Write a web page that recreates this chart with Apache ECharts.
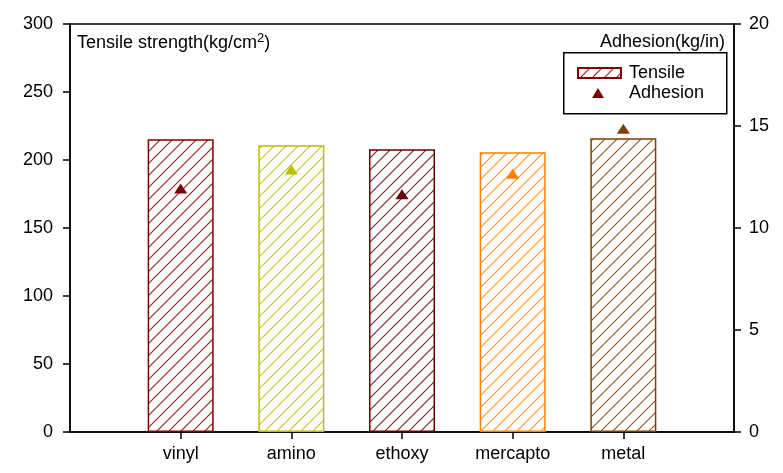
<!DOCTYPE html>
<html>
<head>
<meta charset="utf-8">
<script src="https://cdn.jsdelivr.net/npm/echarts@6/dist/echarts.min.js"></script>
<style>html,body{margin:0;padding:0;background:#fff}#c{width:783px;height:473px}</style>
</head>
<body>
<div id="c"></div>
<script>
// ---- data ----
var categories = ['vinyl', 'amino', 'ethoxy', 'mercapto', 'metal'];
var tensile = [215.3, 210.9, 207.9, 205.7, 216.0];      // left axis, kg/cm^2
var adhesion = [11.94, 12.87, 11.66, 12.66, 14.86];     // right axis, kg/in
var colors = ['#7f0000', '#bcbc00', '#660000', '#ff8000', '#7f3f00'];
var leftTicks = [0, 50, 100, 150, 200, 250, 300];
var rightTicks = [0, 5, 10, 15, 20];

var FONT = '"Liberation Sans", Arial, sans-serif';

function hatch(color) {
  var s = 12;
  var cv = document.createElement('canvas');
  cv.width = s; cv.height = s;
  var ctx = cv.getContext('2d');
  ctx.strokeStyle = color;
  ctx.globalAlpha = 0.85;
  ctx.lineWidth = 1.2;
  ctx.beginPath();
  ctx.moveTo(-1, s + 1); ctx.lineTo(s + 1, -1);
  ctx.moveTo(-1, 1); ctx.lineTo(1, -1);
  ctx.moveTo(s - 1, s + 1); ctx.lineTo(s + 1, s - 1);
  ctx.stroke();
  return { image: cv, repeat: 'repeat' };
}

// pad category axis with empty slots at both ends
var xCats = [''].concat(categories).concat(['']);
var barData = ['-'].concat(tensile.map(function (v, i) {
  return { value: v, itemStyle: { color: hatch(colors[i]), borderColor: colors[i] } };
})).concat(['-']);
var scatData = ['-'].concat(adhesion.map(function (v, i) {
  return { value: v, itemStyle: { color: colors[i] } };
})).concat(['-']);

var legendText = { fontFamily: FONT, fontSize: 18, color: '#000' };

var chart = echarts.init(document.getElementById('c'));
chart.setOption({
  animation: false,
  textStyle: { fontFamily: FONT },
  grid: { left: 70, right: 49, top: 24, bottom: 41, show: true, borderColor: '#000', borderWidth: 1.5 },
  title: [
    {
      left: 72, top: 27,
      text: '{a|Tensile strength(kg/cm}{s|2}{a|)}',
      textStyle: {
        fontWeight: 'normal',
        rich: {
          a: { fontFamily: FONT, fontSize: 18, fontWeight: 'normal', color: '#000' },
          s: { fontFamily: FONT, fontSize: 13, fontWeight: 'normal', color: '#000', padding: [0, 0, 9, 0] }
        }
      }
    },
    {
      right: 53, top: 28,
      text: 'Adhesion(kg/in)',
      textStyle: { fontFamily: FONT, fontSize: 18, fontWeight: 'normal', color: '#000' }
    }
  ],
  graphic: [{
    type: 'rect', left: 563, top: 52, z: 5, silent: true,
    shape: { width: 163, height: 61 },
    style: { fill: 'rgba(0,0,0,0)', stroke: '#000', lineWidth: 1.5 }
  }],
  legend: [
    {
      left: 577, top: 64, padding: 0,
      itemWidth: 43, itemHeight: 10,
      textStyle: Object.assign({ padding: [0, 0, 0, 3] }, legendText),
      data: [{ name: 'Tensile', icon: 'rect' }]
    },
    {
      left: 592, top: 84, padding: 0,
      itemWidth: 12, itemHeight: 10, symbolKeepAspect: false,
      textStyle: Object.assign({ padding: [0, 0, 0, 20] }, legendText),
      data: [{ name: 'Adhesion', icon: 'triangle' }]
    }
  ],
  xAxis: {
    type: 'category', data: xCats, boundaryGap: false,
    axisLine: { lineStyle: { color: '#000', width: 1.5 } },
    axisTick: { length: 7, lineStyle: { color: '#000', width: 1.5 },
      interval: function (i) { return i > 0 && i < xCats.length - 1; } },
    axisLabel: { color: '#000', fontSize: 18, fontFamily: FONT, margin: 13, interval: 0 },
    splitLine: { show: false }
  },
  yAxis: [
    {
      type: 'value', min: leftTicks[0], max: leftTicks[leftTicks.length - 1], interval: leftTicks[1] - leftTicks[0],
      axisLine: { show: true, lineStyle: { color: '#000', width: 1.5 } },
      axisTick: { show: true, length: 7, lineStyle: { color: '#000', width: 1.5 } },
      axisLabel: { color: '#000', fontSize: 18, fontFamily: FONT, margin: 17 },
      splitLine: { show: false }
    },
    {
      type: 'value', min: rightTicks[0], max: rightTicks[rightTicks.length - 1], interval: rightTicks[1] - rightTicks[0],
      position: 'right',
      axisLine: { show: true, lineStyle: { color: '#000', width: 1.5 } },
      axisTick: { show: true, length: 7, lineStyle: { color: '#000', width: 1.5 } },
      axisLabel: { color: '#000', fontSize: 18, fontFamily: FONT, margin: 15 },
      splitLine: { show: false }
    }
  ],
  series: [
    {
      name: 'Tensile', type: 'bar', yAxisIndex: 0, barWidth: 66,
      itemStyle: { color: hatch('#800000'), borderColor: '#800000', borderWidth: 1.5 },
      data: barData
    },
    {
      name: 'Adhesion', type: 'scatter', yAxisIndex: 1, symbol: 'triangle', symbolSize: [13, 10],
      itemStyle: { color: '#800000', opacity: 1 },
      data: scatData, z: 3
    }
  ]
});
</script>
</body>
</html>
